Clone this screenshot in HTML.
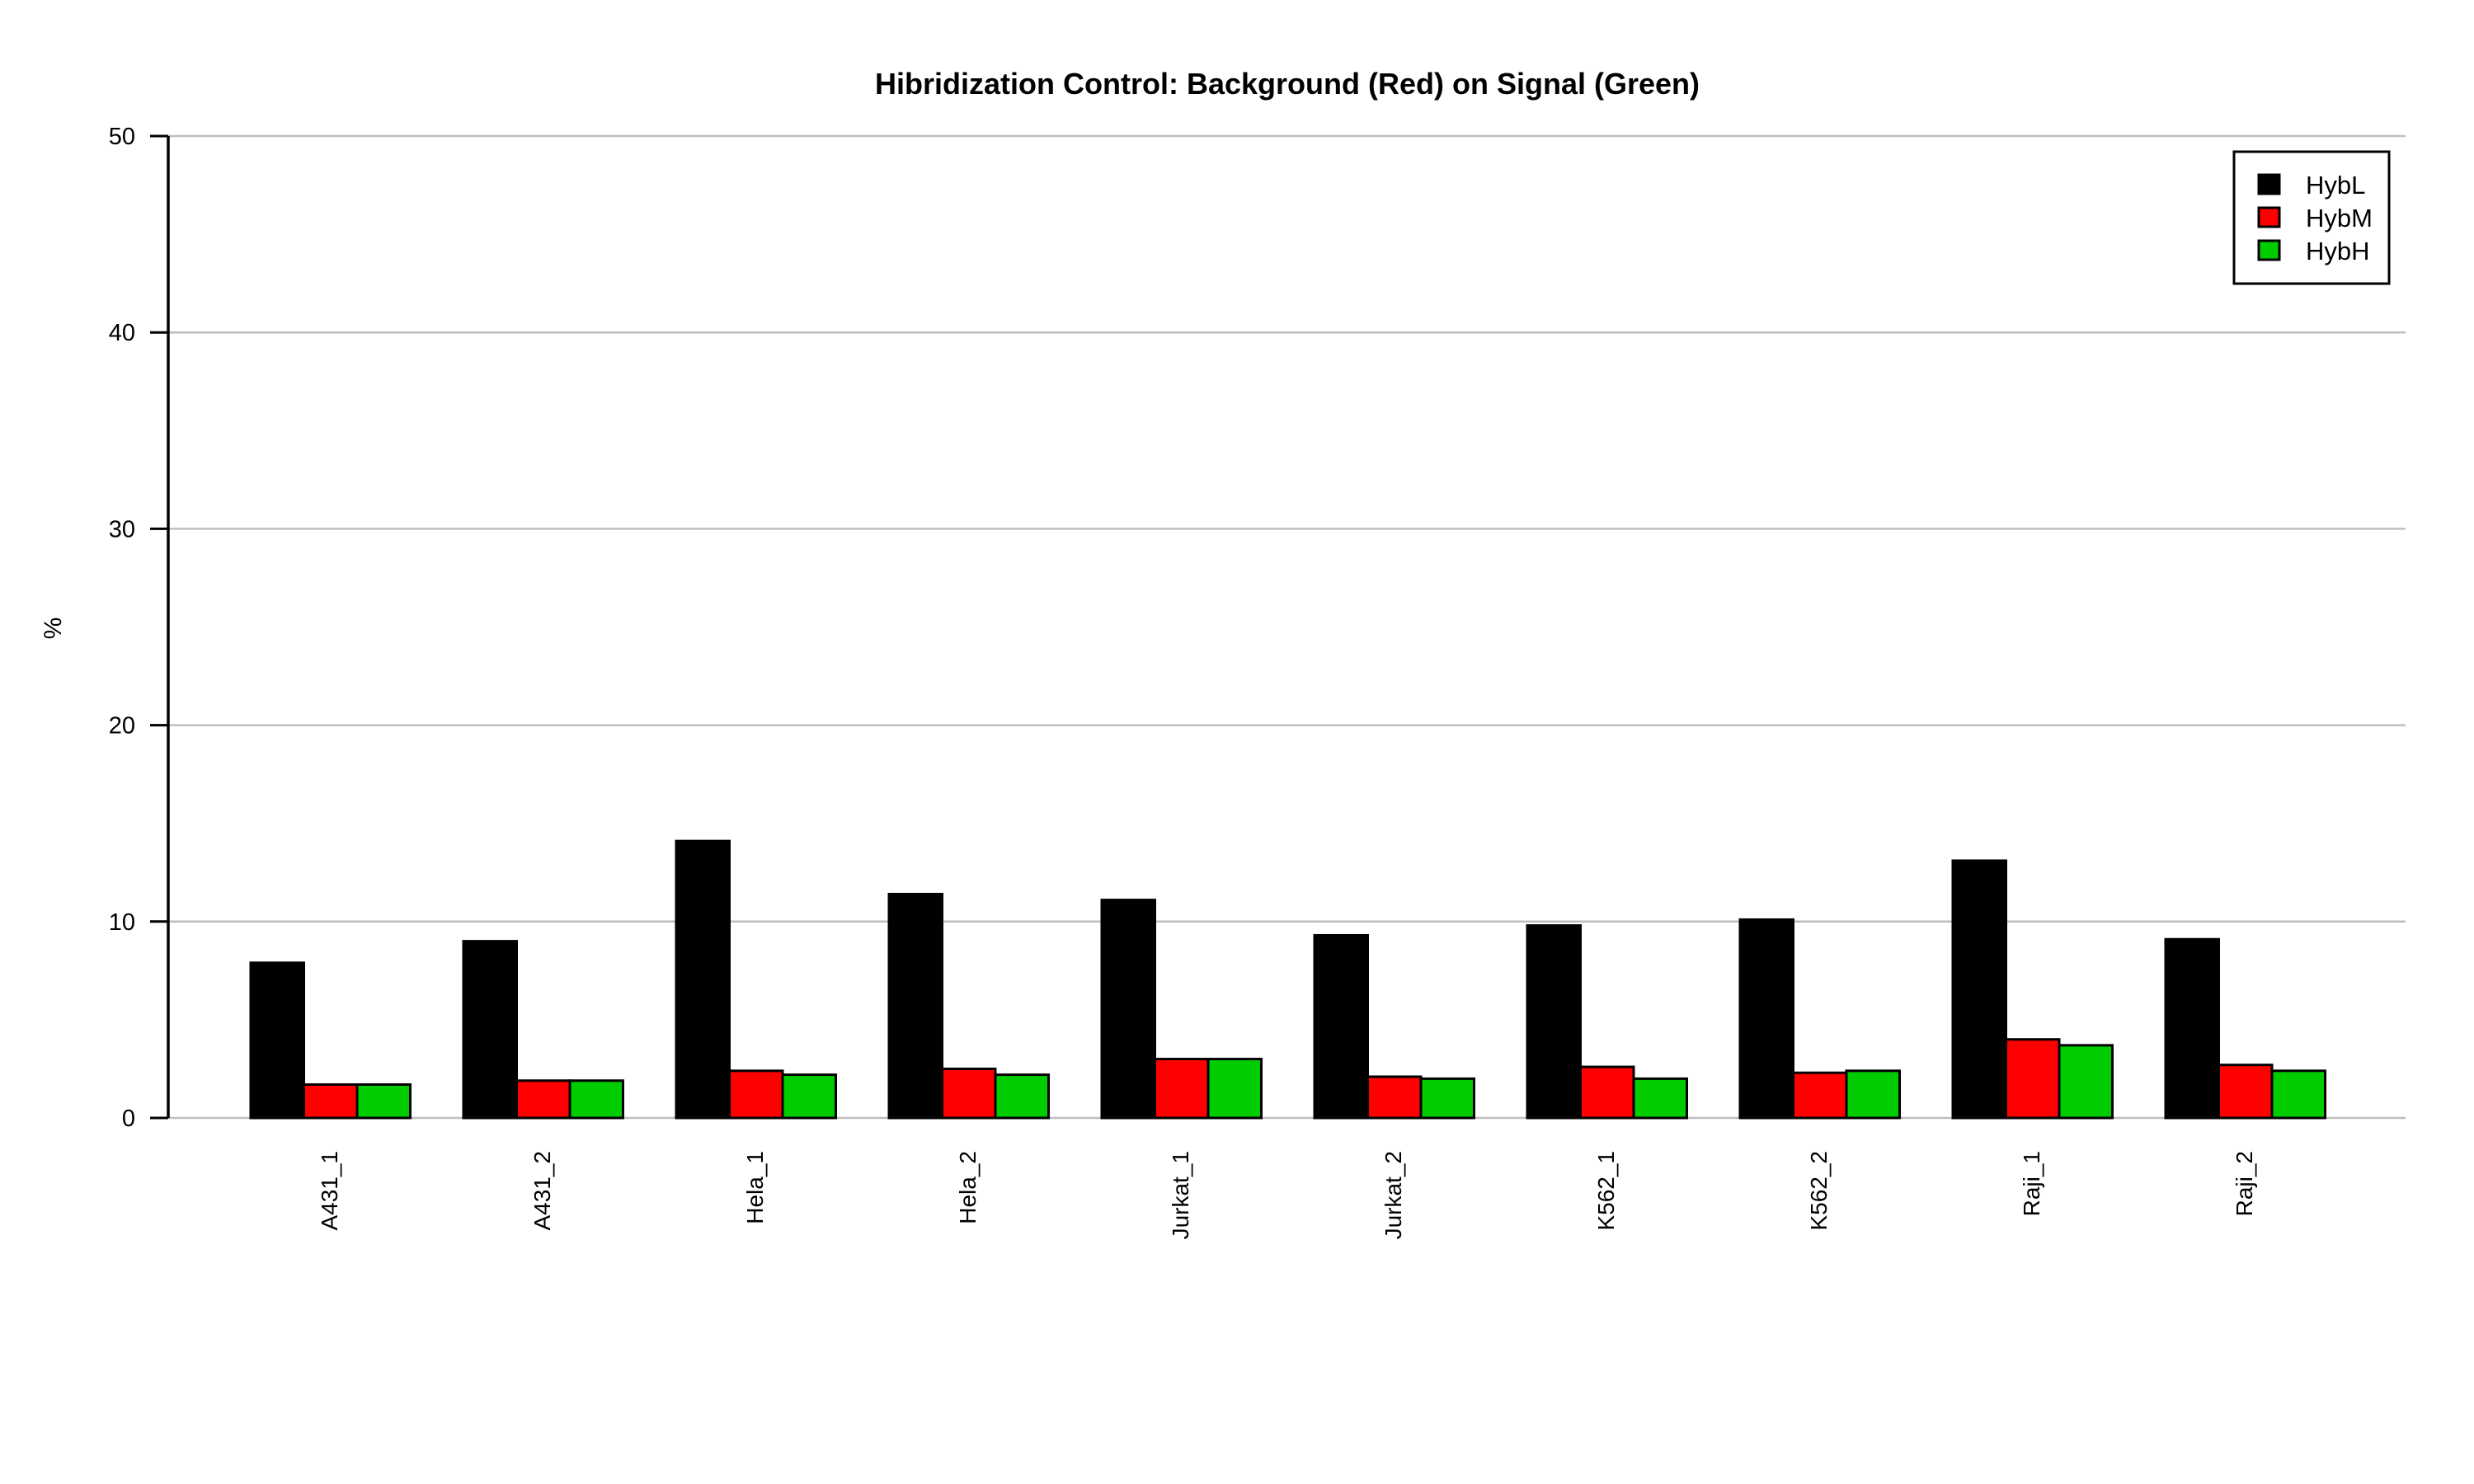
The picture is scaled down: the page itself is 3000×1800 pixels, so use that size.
<!DOCTYPE html>
<html><head><meta charset="utf-8"><style>body{margin:0;background:#fff}svg{display:block;font-family:"Liberation Sans",sans-serif}</style></head>
<body>
<svg id="chart" width="3000" height="1800" xmlns="http://www.w3.org/2000/svg">
<rect width="3000" height="1800" fill="#fff"/>
<text x="1561" y="114" font-size="36" font-weight="bold" text-anchor="middle">Hibridization Control: Background (Red) on Signal (Green)</text>
<text transform="translate(74,762) rotate(-90)" font-size="30" text-anchor="middle">%</text>
<g id="grid"></g><g id="bars"></g><g id="axis"></g>
<g>
<rect x="2709" y="184" width="188" height="160" fill="#fff" stroke="#000" stroke-width="3"/>
<rect x="2739" y="212" width="25" height="23" fill="#000" stroke="#000" stroke-width="3"/>
<text x="2796" y="235" font-size="31">HybL</text>
<rect x="2739" y="252" width="25" height="23" fill="#f00" stroke="#000" stroke-width="3"/>
<text x="2796" y="275" font-size="31">HybM</text>
<rect x="2739" y="292" width="25" height="23" fill="#00cc00" stroke="#000" stroke-width="3"/>
<text x="2796" y="315" font-size="31">HybH</text>
</g>
</svg>
<script>
const categories=["A431_1","A431_2","Hela_1","Hela_2","Jurkat_1","Jurkat_2","K562_1","K562_2","Raji_1","Raji_2"];
const hybL=[7.9,9.0,14.1,11.4,11.1,9.3,9.8,10.1,13.1,9.1];
const hybM=[1.7,1.9,2.4,2.5,3.0,2.1,2.6,2.3,4.0,2.7];
const hybH=[1.7,1.9,2.2,2.2,3.0,2.0,2.0,2.4,3.7,2.4];
const yTicks=[0,10,20,30,40,50];
const NS="http://www.w3.org/2000/svg";
const y0=1356,y50=165,xL=204,xR=2917,firstX=304,unit=64.5;
function y(v){return y0-(v/50)*(y0-y50);}
function xg(i){return firstX+i*4*unit;}
function mk(tag,attrs,parent){const e=document.createElementNS(NS,tag);for(const k in attrs)e.setAttribute(k,attrs[k]);document.getElementById(parent).appendChild(e);return e;}
yTicks.forEach(t=>{
 const g=mk('line',{x1:xL,x2:xR,y1:y(t),y2:y(t),stroke:'#bebebe','stroke-width':2.5},'grid');
 
 
 const tk=mk('line',{x1:xL-22,x2:xL,y1:y(t),y2:y(t),stroke:'#000','stroke-width':3},'axis');
 
 
 const tl=mk('text',{x:164,y:y(t)+10,'font-size':29,'text-anchor':'end'},'axis');
 tl.textContent=t;
 
 
});
const ax=mk('line',{x1:xL,x2:xL,y1:y(0),y2:y(50),stroke:'#000','stroke-width':3.5},'axis');


const series=[[hybL,'#000','hybl'],[hybM,'#f00','hybm'],[hybH,'#00cc00','hybh']];
categories.forEach((c,i)=>{
 series.forEach(([vals,col,nm],j)=>{
  const r=mk('rect',{x:xg(i)+j*unit,y:y(vals[i]),width:unit,height:y(0)-y(vals[i]),fill:col,stroke:'#000','stroke-width':3},'bars');
  
  
 });
 const cx=xg(i)+1.5*unit+8;
 const l=mk('text',{transform:'translate('+cx+',1396) rotate(-90)','font-size':28,'text-anchor':'end'},'axis');
 l.textContent=c;
 
 
});
</script>
</body></html>
